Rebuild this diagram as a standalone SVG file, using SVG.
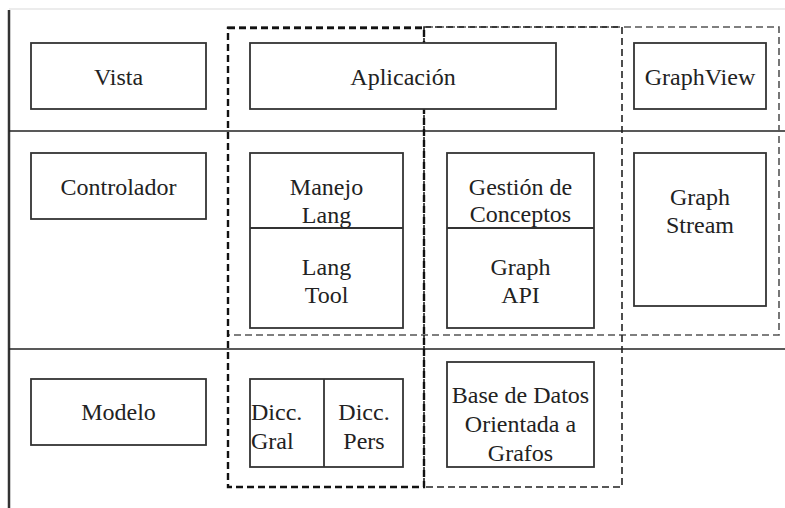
<svg xmlns="http://www.w3.org/2000/svg" width="785" height="508" viewBox="0 0 785 508">
  <style>
    .box { fill: #ffffff; stroke: #333333; stroke-width: 1.8; }
    .div { fill: none; stroke: #333333; stroke-width: 1.8; }
    .lane { stroke: #222222; stroke-width: 1.6; fill: none; }
    .dash-thick { fill: none; stroke: #111111; stroke-width: 2.4; stroke-dasharray: 7 4; }
    .dash-gray { fill: none; stroke: #555555; stroke-width: 1.6; stroke-dasharray: 7 4; }
    .dash-dark { fill: none; stroke: #222222; stroke-width: 1.6; stroke-dasharray: 7 4; }
    .lbl { font-family: 'Liberation Serif', 'DejaVu Serif', 'Times New Roman', serif; font-size: 24px; fill: #222222; text-anchor: middle; }
    .left { text-anchor: start; }
  </style>

  <rect width="785" height="508" fill="#ffffff"/>

  <!-- layer lanes -->
  <g id="lanes">
    <line x1="9" y1="9" x2="785" y2="9" stroke="#e6e6e6" stroke-width="1.5"/>
    <line x1="9" y1="10" x2="9" y2="508" stroke="#333333" stroke-width="2.5"/>
    <line class="lane" x1="9" y1="131" x2="785" y2="131"/>
    <line class="lane" x1="9" y1="349" x2="785" y2="349"/>
  </g>

  <!-- dashed groupings (behind the component boxes) -->
  <g id="groupings">
    <rect class="dash-gray" x="228" y="27" width="551" height="308"/>
    <rect class="dash-dark" x="424" y="27" width="198" height="460"/>
    <rect class="dash-thick" x="228" y="28" width="196" height="459"/>
  </g>

  <!-- layer titles -->
  <g id="vista">
    <rect class="box" x="31" y="43" width="175" height="66"/>
    <text class="lbl" font-family="Liberation Serif, serif" x="118.5" y="85">Vista</text>
  </g>
  <g id="controlador">
    <rect class="box" x="31" y="153" width="175" height="66"/>
    <text class="lbl" font-family="Liberation Serif, serif" x="118.5" y="195">Controlador</text>
  </g>
  <g id="modelo">
    <rect class="box" x="31" y="379" width="175" height="66"/>
    <text class="lbl" font-family="Liberation Serif, serif" x="118.5" y="420">Modelo</text>
  </g>

  <!-- components -->
  <g id="aplicacion">
    <rect class="box" x="250" y="43" width="306" height="66"/>
    <text class="lbl" font-family="Liberation Serif, serif" x="403" y="85">Aplicación</text>
  </g>
  <g id="graphview">
    <rect class="box" x="634" y="43" width="132" height="66"/>
    <text class="lbl" font-family="Liberation Serif, serif" x="700" y="85">GraphView</text>
  </g>
  <g id="langtool">
    <rect class="box" x="250" y="153" width="153" height="175"/>
    <line class="div" x1="250" y1="228" x2="403" y2="228"/>
    <text class="lbl" font-family="Liberation Serif, serif" x="326.5" y="195">Manejo</text>
    <text class="lbl" font-family="Liberation Serif, serif" x="326.5" y="223">Lang</text>
    <text class="lbl" font-family="Liberation Serif, serif" x="326.5" y="275">Lang</text>
    <text class="lbl" font-family="Liberation Serif, serif" x="326.5" y="303">Tool</text>
  </g>
  <g id="graphapi">
    <rect class="box" x="447" y="153" width="147" height="175"/>
    <line class="div" x1="447" y1="228" x2="594" y2="228"/>
    <text class="lbl" font-family="Liberation Serif, serif" x="520.5" y="195">Gestión de</text>
    <text class="lbl" font-family="Liberation Serif, serif" x="520.5" y="222">Conceptos</text>
    <text class="lbl" font-family="Liberation Serif, serif" x="520.5" y="275">Graph</text>
    <text class="lbl" font-family="Liberation Serif, serif" x="520.5" y="303">API</text>
  </g>
  <g id="graphstream">
    <rect class="box" x="634" y="153" width="132" height="153"/>
    <text class="lbl" font-family="Liberation Serif, serif" x="700" y="205">Graph</text>
    <text class="lbl" font-family="Liberation Serif, serif" x="700" y="233">Stream</text>
  </g>
  <g id="diccionarios">
    <rect class="box" x="250" y="379" width="153" height="88"/>
    <line class="div" x1="324" y1="379" x2="324" y2="467"/>
    <text class="lbl left" font-family="Liberation Serif, serif" x="251" y="420">Dicc.</text>
    <text class="lbl left" font-family="Liberation Serif, serif" x="251" y="449">Gral</text>
    <text class="lbl" font-family="Liberation Serif, serif" x="364" y="420">Dicc.</text>
    <text class="lbl" font-family="Liberation Serif, serif" x="364" y="449">Pers</text>
  </g>
  <g id="basedatos">
    <rect class="box" x="447" y="362" width="147" height="105"/>
    <text class="lbl" font-family="Liberation Serif, serif" x="520.5" y="403">Base de Datos</text>
    <text class="lbl" font-family="Liberation Serif, serif" x="520.5" y="432">Orientada a</text>
    <text class="lbl" font-family="Liberation Serif, serif" x="520.5" y="461">Grafos</text>
  </g>
</svg>
